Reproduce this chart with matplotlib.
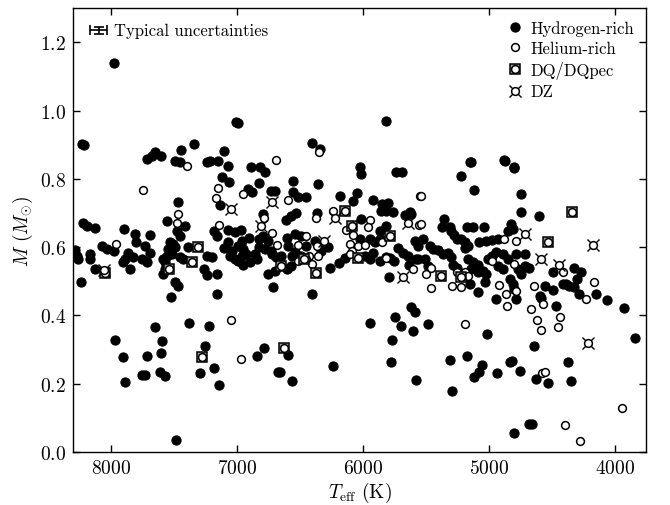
"""
plot.py

White dwarf mass versus effective temperature, split by spectral family
(hydrogen-rich, helium-rich, DQ/DQpec, DZ).

Writes:
  out.png
"""

import matplotlib
matplotlib.use("Agg")  # headless – no display needed
import matplotlib.pyplot as plt
from matplotlib.lines import Line2D

# ── Style ─────────────────────────────────────────────────────────────────────
plt.rcParams["font.family"] = "serif"
plt.rcParams["font.serif"] = ["cmr10"]
plt.rcParams["mathtext.fontset"] = "cm"
plt.rcParams["axes.formatter.use_mathtext"] = True

# ── Data (Teff in K, mass in solar masses) ────────────────────────────────────
h_teff = [
    7980, 8228, 8215, 7010, 6990, 7340, 7446, 7654, 7676, 7604, 7107,
    5817, 6401, 6341, 5151, 4879, 4802,
    7718, 7493, 7453, 7466, 8220, 8193, 8127, 7897, 7554, 7480, 7453, 7414,
    7810, 7691, 7802, 8074, 8035, 7977, 7731, 7691, 7863, 7823, 7889, 7903,
    7757, 7718, 8167, 8167, 8273, 8259, 8285,
    7533, 7511, 7546, 7519, 7559, 7585, 7572, 7493, 7453, 7427, 7387,
    8127, 7850, 8241, 7585, 7572, 7493, 7466, 7525,
    7215, 7150, 7242, 7075, 6890, 6819, 6779, 7123, 7065, 6827, 6911, 6880,
    7136, 6732, 6695, 6554, 6554, 6515, 6792, 6615, 6568, 6528, 7181, 7162,
    7070, 7017, 6969, 6906, 6964, 7070, 7102, 7043, 6996, 6951, 6827, 6792,
    6753, 6827, 6779, 6732, 6607, 6594, 6536, 6488, 7054, 7017, 6964, 6925,
    6991, 6951, 6898, 6858, 6845, 6726, 6687, 6647, 6562, 6541, 6488, 7242,
    7202, 6607, 6568, 6753, 6700, 7260, 7242, 7162, 6713, 7157,
    6020, 6012, 5735, 5690, 6356, 6449, 6184, 6047, 6079, 5920, 5846, 5801,
    5814, 5761, 5854, 6364, 5629, 5616, 5669, 6012, 5867, 5814, 6382, 6316,
    6277, 6330, 6449, 6258, 6190, 6145, 6020, 5946, 5907, 5867, 5986, 5946,
    5920, 5862, 5820, 5783, 5756, 5722, 5682, 5642, 5634, 5576, 5590, 5563,
    5793, 6401, 5616,
    5145, 4876, 4797, 5219, 5119, 4744, 4744, 5357, 5373, 5312, 5299, 5278,
    5251, 5219, 5193, 5193, 5167, 5172, 5127, 5040, 5082, 5021, 4976, 4929,
    4823, 4810, 4849, 5523, 5470, 5444, 5404, 5365, 5325, 5299, 5563, 5510,
    5484, 5286, 5251, 5153, 5087, 5167, 5127, 5087, 5048, 5021, 5140, 5087,
    5034, 5008, 4976, 4942, 4889, 4849, 4929, 4889, 4836, 4810, 4797, 4770,
    4717, 4678, 4744, 4783, 4717, 4942, 4783,
    4603, 4487, 4321, 4268, 4302, 4387, 4413, 4366, 4321, 4149, 4064, 4281,
    4551, 4487, 4598, 4585, 4466, 3924,
    7966, 7906, 7887, 7755, 7728, 7715, 7649, 7596, 7604, 7610, 7570, 7485,
    7385, 7226, 7253, 7292, 7181, 7142, 6843, 6785, 6671, 6592, 6658, 6565,
    6235, 5944, 5746, 5701, 5767, 5780, 5600, 5582, 5482, 5587, 5289, 5307,
    5170, 5016, 5119, 5077, 5051, 4932, 4834, 4643, 3843, 4813, 4754, 4628,
    4530, 4371, 4350, 4802, 4680, 4657,
]
h_mass = [
    1.140, 0.902, 0.899, 0.966, 0.963, 0.903, 0.886, 0.878, 0.868, 0.866, 0.883,
    0.969, 0.906, 0.888, 0.849, 0.856, 0.832,
    0.857, 0.853, 0.848, 0.733, 0.672, 0.663, 0.656, 0.653, 0.676, 0.648, 0.633, 0.663,
    0.637, 0.635, 0.614, 0.602, 0.594, 0.589, 0.604, 0.584, 0.584, 0.570, 0.565, 0.555,
    0.565, 0.557, 0.580, 0.565, 0.575, 0.565, 0.590,
    0.614, 0.609, 0.594, 0.580, 0.575, 0.565, 0.555, 0.599, 0.570, 0.565, 0.599,
    0.536, 0.536, 0.498, 0.521, 0.536, 0.497, 0.487, 0.453,
    0.853, 0.853, 0.848, 0.838, 0.834, 0.834, 0.819, 0.804, 0.792, 0.788, 0.770, 0.762,
    0.723, 0.764, 0.764, 0.794, 0.762, 0.746, 0.697, 0.680, 0.690, 0.700, 0.648, 0.631,
    0.651, 0.645, 0.651, 0.628, 0.619, 0.616, 0.596, 0.589, 0.602, 0.594, 0.625, 0.633,
    0.619, 0.599, 0.594, 0.589, 0.628, 0.604, 0.638, 0.631, 0.573, 0.565, 0.573, 0.580,
    0.560, 0.547, 0.555, 0.580, 0.565, 0.580, 0.570, 0.575, 0.573, 0.586, 0.573, 0.575,
    0.570, 0.536, 0.545, 0.521, 0.531, 0.536, 0.518, 0.521, 0.482, 0.462,
    0.834, 0.814, 0.819, 0.819, 0.785, 0.746, 0.749, 0.758, 0.736, 0.738, 0.726, 0.729,
    0.707, 0.702, 0.707, 0.700, 0.702, 0.697, 0.694, 0.682, 0.648, 0.663, 0.619, 0.606,
    0.599, 0.589, 0.604, 0.540, 0.553, 0.567, 0.624, 0.624, 0.614, 0.624, 0.573, 0.565,
    0.584, 0.560, 0.570, 0.567, 0.560, 0.596, 0.584, 0.575, 0.547, 0.565, 0.619, 0.602,
    0.511, 0.462, 0.423,
    0.848, 0.853, 0.834, 0.807, 0.768, 0.755, 0.704, 0.682, 0.658, 0.658, 0.648, 0.635,
    0.624, 0.624, 0.614, 0.596, 0.604, 0.658, 0.658, 0.658, 0.616, 0.619, 0.622, 0.625,
    0.668, 0.653, 0.648, 0.624, 0.604, 0.594, 0.592, 0.580, 0.584, 0.570, 0.565, 0.565,
    0.545, 0.547, 0.540, 0.492, 0.467, 0.565, 0.557, 0.547, 0.531, 0.521, 0.536, 0.526,
    0.497, 0.565, 0.575, 0.586, 0.580, 0.565, 0.545, 0.536, 0.506, 0.492, 0.477, 0.536,
    0.545, 0.540, 0.521, 0.580, 0.580, 0.448, 0.448,
    0.692, 0.526, 0.540, 0.526, 0.506, 0.492, 0.492, 0.487, 0.482, 0.462, 0.446, 0.462,
    0.485, 0.475, 0.457, 0.450, 0.426, 0.420,
    0.329, 0.277, 0.204, 0.226, 0.225, 0.280, 0.365, 0.326, 0.290, 0.233, 0.223, 0.033,
    0.377, 0.370, 0.311, 0.230, 0.246, 0.197, 0.282, 0.303, 0.235, 0.284, 0.235, 0.206,
    0.252, 0.377, 0.394, 0.370, 0.328, 0.262, 0.355, 0.211, 0.373, 0.409, 0.179, 0.269,
    0.280, 0.345, 0.218, 0.233, 0.255, 0.231, 0.264, 0.311, 0.334, 0.265, 0.238, 0.213,
    0.201, 0.264, 0.208, 0.054, 0.081, 0.081,
]

he_teff = [
    7395, 6689, 6348, 7744, 7466, 7474, 7961, 6951, 7154, 7170, 6594, 6784,
    6726, 7144, 6679, 6515, 6515, 5550, 6375, 6237, 5555, 5946, 5960, 6137,
    6454, 6427, 6364, 6356, 6401, 6454, 6100, 6084, 6039, 5986, 6079, 6100,
    5814, 5846, 5603, 5537, 5542, 4881, 4783, 5463, 5497, 5463, 5251, 5193,
    5167, 5293, 5225, 4976, 4916, 4863, 4783, 4797, 4855, 4408, 4162, 4228,
    4638, 4572, 4662, 7049, 6967, 5186, 4617, 4583, 4432, 4450, 4575, 4556,
    3943, 4398, 4273,
]
he_mass = [
    0.837, 0.854, 0.878, 0.768, 0.697, 0.670, 0.609, 0.757, 0.772, 0.745, 0.739, 0.684,
    0.641, 0.665, 0.606, 0.606, 0.560, 0.751, 0.684, 0.707, 0.665, 0.680, 0.658, 0.651,
    0.631, 0.573, 0.602, 0.575, 0.550, 0.565, 0.609, 0.589, 0.602, 0.606, 0.635, 0.580,
    0.567, 0.614, 0.536, 0.751, 0.668, 0.624, 0.619, 0.538, 0.521, 0.479, 0.528, 0.526,
    0.514, 0.485, 0.482, 0.560, 0.489, 0.462, 0.472, 0.550, 0.428, 0.528, 0.498, 0.448,
    0.487, 0.433, 0.418, 0.386, 0.272, 0.373, 0.386, 0.357, 0.394, 0.367, 0.231, 0.233,
    0.128, 0.079, 0.032,
]

dq_teff = [8045, 7543, 7360, 7308, 6647, 6467, 6369, 6139, 6084, 6039, 5788,
           5383, 5219, 4532, 4339, 7279, 6626]
dq_mass = [0.525, 0.536, 0.555, 0.599, 0.545, 0.565, 0.524, 0.707, 0.663, 0.567, 0.633,
           0.514, 0.511, 0.614, 0.704, 0.277, 0.304]

dz_teff = [8060, 7051, 6721, 6811, 6224, 6310, 5642, 5682, 4717, 4175, 4585, 4440, 4213]
dz_mass = [0.533, 0.711, 0.731, 0.663, 0.684, 0.617, 0.672, 0.511, 0.638, 0.606, 0.565,
           0.547, 0.318]

# typical error bar shown in the upper-left corner
err_teff, err_mass = 8098, 1.235
err_dteff, err_dmass = 66, 0.011

# ── Marker styles ─────────────────────────────────────────────────────────────
FILLED = dict(marker="o", ms=6.6, mfc="black", mec="black", mew=0.8, ls="none")
OPEN = dict(marker="o", ms=5.6, mfc="white", mec="black", mew=1.1, ls="none")
SQUARE = dict(marker="s", ms=7.6, mfc="0.6", mec="black", mew=1.1, ls="none")
CROSS = dict(marker="x", ms=8.6, mec="black", mew=1.0, ls="none")

fig = plt.figure(figsize=(6.7, 5.06), dpi=100)
ax = fig.add_axes([0.1094, 0.1053, 0.8543, 0.8763])

ax.plot(h_teff, h_mass, zorder=2, **FILLED)
ax.plot(he_teff, he_mass, zorder=3, **OPEN)
ax.plot(dq_teff, dq_mass, zorder=4, **SQUARE)
ax.plot(dq_teff, dq_mass, zorder=5, **OPEN)
ax.plot(dz_teff, dz_mass, zorder=4, **CROSS)
ax.plot(dz_teff, dz_mass, zorder=5, **OPEN)

ax.errorbar([err_teff], [err_mass], xerr=err_dteff, yerr=err_dmass,
            fmt="none", ecolor="black", elinewidth=1.2, capsize=3.5, capthick=1.2)
ax.text(7975, err_mass, "Typical uncertainties", fontsize=12, va="center", ha="left")

ax.set_xlim(8300, 3755)
ax.set_ylim(0.0, 1.3)
ax.set_xticks([8000, 7000, 6000, 5000, 4000])
ax.set_yticks([0.0, 0.2, 0.4, 0.6, 0.8, 1.0, 1.2])
ax.tick_params(direction="in", top=True, right=True, length=5, width=1,
               labelsize=14, pad=5)
for side in ax.spines.values():
    side.set_linewidth(1.0)

ax.set_xlabel(r"$T_{\rm eff}$ (K)", fontsize=14, labelpad=2)
ax.set_ylabel(r"$M$ ($M_{\odot}$)", fontsize=14, labelpad=4)

# ── Legend ────────────────────────────────────────────────────────────────────
handles = [
    Line2D([], [], **FILLED),
    Line2D([], [], **OPEN),
    (Line2D([], [], **SQUARE), Line2D([], [], **OPEN)),
    (Line2D([], [], **CROSS), Line2D([], [], **OPEN)),
]
labels = ["Hydrogen-rich", "Helium-rich", "DQ/DQpec", "DZ"]
ax.legend(handles, labels, loc="upper right", frameon=False, fontsize=12,
          handlelength=0.8, handletextpad=0.5, labelspacing=0.3,
          borderaxespad=0.3, numpoints=1)

fig.savefig("out.png", dpi=100)
plt.close(fig)
